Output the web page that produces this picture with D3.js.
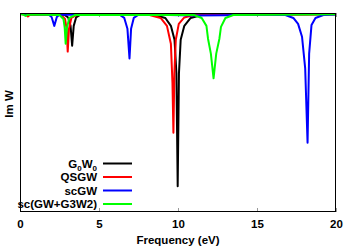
<!DOCTYPE html>
<html>
<head>
<meta charset="utf-8">
<script src="https://cdn.jsdelivr.net/npm/d3@7"></script>
<style>
  body { margin: 0; background: #fff; }
  svg { display: block; font-family: "Liberation Sans", Arial, sans-serif; font-weight: bold; }
  .curve { fill: none; stroke-width: 2; stroke-linejoin: round; }
</style>
</head>
<body>
<svg id="chart" width="354" height="248"></svg>
<script>
// Im W spectra, [frequency (eV), Im W]
const g0w0 = [[0,0],[0.3,-0.03],[0.45,-0.12],[0.55,-0.12],[0.7,-0.03],[2.8,-0.08],[3.05,-0.35],[3.2,-1.2],
  [3.3,-3.2],[3.4,-1.2],[3.55,-0.35],[3.8,-0.1],[8.5,-0.1],[9.2,-0.4],[9.55,-1.2],[9.78,-2.6],[9.9,-6],
  [9.98,-17.4],[10.06,-6],[10.17,-2.6],[10.4,-1.2],[10.8,-0.4],[11.5,-0.1],[20,-0.02]];
const qsgw = [[0,0],[0.35,-0.05],[0.5,-0.25],[0.65,-0.05],[2.6,-0.1],[2.85,-0.5],[2.95,-1.5],[3.02,-3.8],
  [3.1,-1.5],[3.25,-0.4],[3.6,-0.1],[8.2,-0.1],[8.9,-0.4],[9.3,-1.2],[9.55,-3],[9.65,-7],[9.71,-12],
  [9.77,-6],[9.86,-2.6],[10.05,-1.0],[10.4,-0.35],[11,-0.1],[20,-0.02]];
const scgw = [[0,0],[1.8,-0.05],[2.0,-0.3],[2.17,-1.2],[2.33,-0.3],[2.5,-0.05],[6.3,-0.08],[6.6,-0.4],
  [6.8,-1.5],[6.93,-4.5],[7.03,-1.5],[7.2,-0.4],[7.5,-0.08],[9.5,-0.1],[11,-0.15],[13,-0.12],[14.5,-0.05],
  [16.8,-0.1],[17.3,-0.4],[17.6,-1.0],[17.85,-2.3],[18.05,-5.5],[18.2,-13],[18.3,-4],[18.45,-1.1],
  [18.7,-0.4],[19.2,-0.1],[20,-0.05]];
const scg3w2 = [[0,0],[0.2,-0.05],[0.35,-0.2],[0.5,-0.05],[2.5,-0.1],[2.75,-0.5],[2.83,-1.4],[2.89,-3.0],
  [2.97,-1.4],[3.12,-0.4],[3.5,-0.1],[11.0,-0.1],[11.5,-0.4],[11.8,-1.2],[11.9,-2.5],[12.08,-4],
  [12.25,-6.5],[12.42,-4],[12.62,-2.5],[12.72,-1.3],[13.0,-0.4],[13.5,-0.1],[20,-0.02]];

const seriesNames = ["G0W0", "QSGW", "scGW", "sc(GW+G3W2)"];
const seriesColors = ["#000000", "#ff0000", "#0000ff", "#00ff00"];
const seriesData = [g0w0, qsgw, scgw, scg3w2];
const xTicks = [0, 5, 10, 15, 20];

const svg = d3.select("#chart");
const margin = { left: 20, right: 18, top: 13, bottom: 36 };
const W = 354, H = 248;
const fs = 11.5;

const x = d3.scaleLinear().domain([0, 20]).range([margin.left, W - margin.right]);
const y = d3.scaleLinear().domain([-20, 0.1]).range([H - margin.bottom, margin.top]);

svg.append("clipPath").attr("id", "plot")
  .append("rect")
  .attr("x", margin.left).attr("y", margin.top)
  .attr("width", W - margin.left - margin.right)
  .attr("height", H - margin.top - margin.bottom);

// ticks, inward, bottom + mirrored at top
const xAxisB = d3.axisBottom(x).tickValues(xTicks).tickSize(-4).tickPadding(8).tickFormat(d3.format("d"));
const gx = svg.append("g").attr("transform", `translate(0,${H - margin.bottom})`).call(xAxisB);
gx.select(".domain").remove();
gx.selectAll("line").attr("stroke", "#999");
gx.selectAll("text").attr("font-size", fs).attr("font-family", "Liberation Sans, Arial, sans-serif")
  .attr("font-weight", "bold").attr("fill", "#000");

const gt = svg.append("g").attr("transform", `translate(0,${margin.top})`)
  .call(d3.axisTop(x).tickValues(xTicks).tickSize(-4).tickFormat(""));
gt.select(".domain").remove();
gt.selectAll("line").attr("stroke", "#999");

// curves
const line = d3.line().x(d => x(d[0])).y(d => y(d[1]));
svg.append("g").attr("clip-path", "url(#plot)")
  .selectAll("path")
  .data(seriesData)
  .join("path")
  .attr("class", "curve")
  .attr("stroke", (d, i) => seriesColors[i])
  .attr("d", line);

// frame
svg.append("rect")
  .attr("x", margin.left + 0.5).attr("y", margin.top + 0.5)
  .attr("width", W - margin.left - margin.right - 1)
  .attr("height", H - margin.top - margin.bottom - 1)
  .attr("fill", "none").attr("stroke", "#000").attr("stroke-width", 1);

// axis titles
svg.append("text")
  .attr("x", (margin.left + W - margin.right) / 2).attr("y", 244)
  .attr("text-anchor", "middle").attr("font-size", fs)
  .text("Frequency (eV)");
svg.append("text")
  .attr("transform", "translate(13,104) rotate(-90)")
  .attr("text-anchor", "middle").attr("font-size", fs)
  .text("Im W");

// legend
const legend = svg.append("g");
const rowY = [163.5, 177, 190.5, 204];
seriesNames.forEach((name, i) => {
  const t = legend.append("text")
    .attr("x", 97).attr("y", rowY[i] + 4)
    .attr("text-anchor", "end").attr("font-size", fs);
  if (name === "G0W0") {
    t.append("tspan").text("G");
    t.append("tspan").attr("font-size", 8).attr("dy", 3).text("0");
    t.append("tspan").attr("dy", -3).text("W");
    t.append("tspan").attr("font-size", 8).attr("dy", 3).text("0");
  } else {
    t.text(name);
  }
  legend.append("line")
    .attr("x1", 103).attr("x2", 132)
    .attr("y1", rowY[i]).attr("y2", rowY[i])
    .attr("stroke", seriesColors[i]).attr("stroke-width", 2);
});
</script>
</body>
</html>
